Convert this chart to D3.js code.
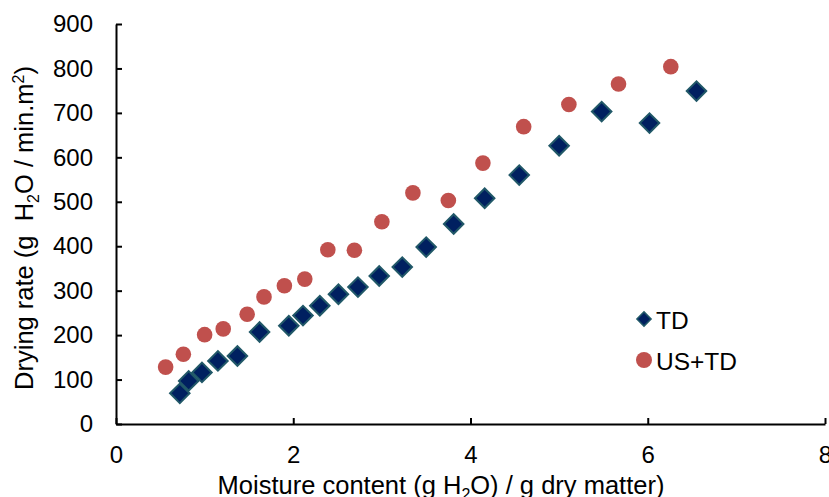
<!DOCTYPE html>
<html>
<head>
<meta charset="utf-8">
<script src="https://cdn.jsdelivr.net/npm/d3@7"></script>
<style>
  body { margin: 0; background: #fff; }
  text { font-family: "Liberation Sans", Arial, sans-serif; fill: #000; }
</style>
</head>
<body>
<svg id="chart" width="829" height="497"></svg>
<script>
// TD (thermal drying) series
const tdX = [0.72, 0.82, 0.97, 1.15, 1.37, 1.62, 1.95, 2.11, 2.30, 2.51, 2.73, 2.97, 3.23, 3.50, 3.81, 4.16, 4.55, 5.00, 5.48, 6.02, 6.55];
const tdY = [69, 97, 116, 142, 153, 207, 221, 244, 266, 292, 308, 333, 353, 398, 450, 508, 560, 626, 703, 677, 749];
// US+TD series
const usX = [0.56, 0.76, 1.00, 1.21, 1.48, 1.67, 1.90, 2.13, 2.39, 2.69, 3.00, 3.35, 3.75, 4.14, 4.60, 5.11, 5.67, 6.26];
const usY = [128, 157, 201, 214, 247, 286, 311, 326, 392, 391, 455, 520, 503, 587, 669, 719, 765, 804];
const xTicks = [0, 2, 4, 6, 8];
const yTicks = [0, 100, 200, 300, 400, 500, 600, 700, 800, 900];
const seriesNames = ["TD", "US+TD"];

const margin = { top: 24, right: 4, bottom: 73, left: 116 };
const width = 829 - margin.left - margin.right;
const height = 497 - margin.top - margin.bottom;

const svg = d3.select("#chart");
const g = svg.append("g").attr("transform", `translate(${margin.left},${margin.top})`);

const x = d3.scaleLinear().domain([0, 8]).range([0, width]);
const y = d3.scaleLinear().domain([0, 900]).range([height, 0]);

// axes, ticks point inward
const xAxis = g.append("g")
  .attr("transform", `translate(0,${height})`)
  .call(d3.axisBottom(x).tickValues(xTicks).tickSizeInner(-6).tickSizeOuter(0).tickPadding(22));
const yAxis = g.append("g")
  .call(d3.axisLeft(y).tickValues(yTicks).tickSizeInner(-6).tickSizeOuter(0).tickPadding(23));

[xAxis, yAxis].forEach(a => {
  a.select(".domain").attr("stroke", "#000").attr("stroke-width", 2);
  a.selectAll(".tick line").attr("stroke", "#000").attr("stroke-width", 2);
  a.selectAll(".tick text").style("font-size", "24px").attr("fill", "#000");
});

// points
const diamond = d3.symbol().type(d3.symbolSquare).size(190);
g.selectAll(".td")
  .data(tdX.map((v, i) => ({ x: v, y: tdY[i] })))
  .enter()
  .append("path")
  .attr("d", diamond)
  .attr("transform", d => `translate(${x(d.x)},${y(d.y)}) rotate(45)`)
  .attr("fill", "#002060")
  .attr("stroke", "#215868")
  .attr("stroke-width", 2);

g.selectAll(".us")
  .data(usX.map((v, i) => ({ x: v, y: usY[i] })))
  .enter()
  .append("circle")
  .attr("cx", d => x(d.x))
  .attr("cy", d => y(d.y))
  .attr("r", 7.8)
  .attr("fill", "#C0504D");

// legend
const legend = svg.append("g").attr("transform", "translate(644,319)");
legend.append("path")
  .attr("d", d3.symbol().type(d3.symbolSquare).size(100))
  .attr("transform", "rotate(45)")
  .attr("fill", "#002060")
  .attr("stroke", "#215868")
  .attr("stroke-width", 1.5);
legend.append("circle").attr("cx", 0).attr("cy", 41).attr("r", 8).attr("fill", "#C0504D");
legend.selectAll(".lt")
  .data(seriesNames)
  .enter()
  .append("text")
  .attr("x", 12)
  .attr("y", (d, i) => i * 41 + 9.5)
  .style("font-size", "24.5px")
  .text(d => d);

// axis titles
const xt = svg.append("text")
  .attr("x", 441)
  .attr("y", 494)
  .attr("text-anchor", "middle")
  .style("font-size", "25.5px");
xt.append("tspan").text("Moisture content (g H");
xt.append("tspan").attr("dy", 6).style("font-size", "16px").text("2");
xt.append("tspan").attr("dy", -6).text("O) / g dry matter)");

const yt = svg.append("text")
  .attr("transform", "translate(33,228) rotate(-90)")
  .attr("text-anchor", "middle")
  .style("font-size", "25.5px")
  .style("white-space", "pre");
yt.append("tspan").text("Drying rate (g  H");
yt.append("tspan").attr("dy", 6).style("font-size", "16px").text("2");
yt.append("tspan").attr("dy", -6).text("O / min.m");
yt.append("tspan").attr("dy", -9).style("font-size", "16px").text("2");
yt.append("tspan").attr("dy", 9).text(")");
</script>
</body>
</html>
